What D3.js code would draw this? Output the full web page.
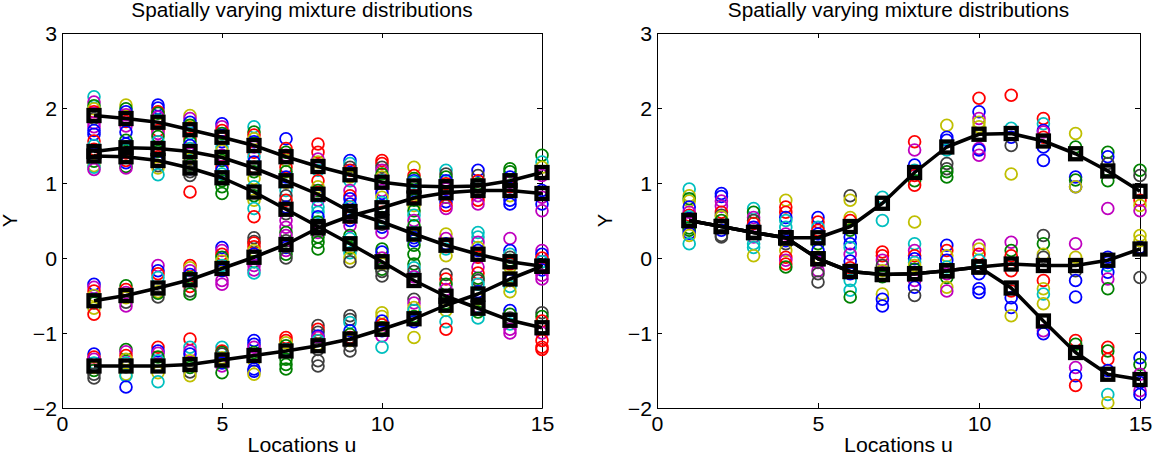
<!DOCTYPE html>
<html><head><meta charset="utf-8">
<script src="https://cdn.jsdelivr.net/npm/d3@7"></script>
<style>body{margin:0;background:#fff} text{font-family:"Liberation Sans",Arial,Helvetica,sans-serif;fill:#000}</style>
</head><body><svg id="c" width="1154" height="461"></svg>
<script>
// ---------------- data ----------------
const locations = [1,2,3,4,5,6,7,8,9,10,11,12,13,14,15];
const xTicks = [0,5,10,15];
const yTicks = [-2,-1,0,1,2,3];
const titleText = "Spatially varying mixture distributions";
const xLabelText = "Locations u";
const yLabelText = "Y";

// component means (black lines with squares), left panel
const leftA = [1.90,1.86,1.81,1.71,1.61,1.50,1.35,1.22,1.11,1.01,0.96,0.95,0.96,1.03,1.14];
const leftB = [1.42,1.47,1.46,1.42,1.34,1.20,1.03,0.85,0.62,0.48,0.32,0.17,0.05,-0.05,-0.11];
const leftC = [1.36,1.35,1.30,1.20,1.07,0.88,0.65,0.42,0.19,-0.05,-0.30,-0.51,-0.67,-0.83,-0.93];
const leftE = [-0.57,-0.50,-0.40,-0.29,-0.14,0.01,0.18,0.40,0.56,0.67,0.80,0.87,0.90,0.90,0.86];
const leftD = [-1.44,-1.44,-1.44,-1.42,-1.36,-1.30,-1.24,-1.17,-1.08,-0.95,-0.81,-0.63,-0.48,-0.28,-0.11];

// component means, right panel
const rightP = [0.50,0.42,0.34,0.27,0.27,0.42,0.73,1.14,1.48,1.65,1.66,1.56,1.39,1.16,0.89];
const rightQ = [0.50,0.42,0.34,0.27,-0.01,-0.18,-0.22,-0.21,-0.17,-0.12,-0.08,-0.10,-0.10,-0.03,0.12];
const rightR = [0.50,0.42,0.34,0.27,-0.01,-0.18,-0.22,-0.21,-0.17,-0.12,-0.40,-0.84,-1.26,-1.55,-1.62];

// samples per location: colour letter + value
const leftSamples = [
 "c2.15 m2.08 g2.03 y1.99 r1.95 g1.90 k1.86 m1.80 m1.75 b1.70 b1.65 r1.56 c1.50 r1.45 g1.42 b1.39 k1.34 g1.29 y1.23 c1.21 m1.18 b-0.35 m-0.39 r-0.44 y-0.50 c-0.55 g-0.60 y-0.67 r-0.75 b-1.28 r-1.32 m-1.35 c-1.40 y-1.46 g-1.50 k-1.55 k-1.60",
 "y2.04 g1.99 b1.95 m1.91 c1.86 r1.82 m1.76 b1.68 g1.57 b1.52 b1.48 c1.44 r1.40 g1.36 r1.30 b1.27 g1.22 m1.20 g-0.37 r-0.42 m-0.46 b-0.50 y-0.53 k-0.59 m-0.64 g-1.22 m-1.25 r-1.30 y-1.35 c-1.40 k-1.45 y-1.55 c-1.57 b-1.72",
 "b2.04 b2.00 r1.95 g1.93 m1.88 c1.84 y1.79 r1.70 m1.66 g1.62 c1.55 m1.48 g1.42 r1.35 b1.28 k1.23 y1.20 c1.11 m-0.10 b-0.17 r-0.21 c-0.26 y-0.45 g-0.47 k-0.52 r-1.19 b-1.24 m-1.27 g-1.32 c-1.37 y-1.53 c-1.65",
 "y1.90 m1.86 b1.81 g1.77 r1.73 c1.66 r1.59 g1.55 b1.50 c1.46 m1.39 y1.32 k1.28 g1.24 b1.19 k1.15 k1.10 r0.88 r-0.10 y-0.13 m-0.17 b-0.22 g-0.26 c-0.31 r-0.38 k-0.44 g-0.48 r-1.08 c-1.19 m-1.24 b-1.28 y-1.37 g-1.46 k-1.52 y-1.57",
 "b1.79 m1.75 r1.70 g1.66 y1.61 b1.55 c1.48 y1.43 m1.37 g1.30 r1.21 b1.17 c1.12 g1.03 g0.95 g0.86 b0.14 m0.10 r0.05 g0.01 y-0.04 c-0.10 b-0.17 m-0.30 m-0.35 c-1.19 r-1.24 g-1.26 k-1.28 y-1.33 b-1.40 m-1.44 g-1.53",
 "c1.75 g1.68 r1.64 y1.59 b1.55 m1.48 r1.41 c1.35 b1.28 r1.21 g1.15 y1.06 c0.95 g0.83 y0.77 c0.66 r0.55 k0.27 k0.22 r0.20 r0.15 y0.10 b0.05 g-0.05 m-0.10 m-0.16 c-0.20 b-1.10 b-1.15 m-1.19 g-1.26 r-1.30 y-1.37 b-1.48 b-1.51 y-1.55",
 "b1.59 r1.46 g1.41 m1.37 y1.30 r1.21 g1.15 b1.08 y1.01 c0.90 k0.83 r0.77 b0.68 k0.59 m0.50 m0.41 g0.34 m0.30 k0.23 r0.17 b0.14 m0.10 g0.05 k0.00 r-1.06 r-1.10 y-1.13 g-1.17 c-1.22 g-1.35 g-1.42 g-1.48",
 "r1.52 r1.41 m1.32 y1.28 g1.21 c1.17 r1.03 y0.95 g0.90 b0.83 m0.77 c0.68 c0.61 b0.55 g0.48 y0.41 m0.34 g0.28 g0.21 g0.12 k-0.90 r-0.95 k-0.99 b-1.04 m-1.06 c-1.10 y-1.15 k-1.22 k-1.37 k-1.44",
 "b1.30 c1.26 k1.21 r1.17 y1.08 c1.03 m0.90 r0.83 b0.79 b0.72 c0.68 k0.61 r0.54 b0.50 m0.43 g0.30 c0.26 m0.19 g0.13 c0.07 y0.00 k-0.05 k-0.77 k-0.82 c-0.86 b-0.97 g-1.02 r-1.06 y-1.10 k-1.17 k-1.24",
 "r1.30 r1.26 k1.21 m1.17 g1.12 y1.08 c1.03 m0.90 b0.86 y0.81 c0.74 b0.68 r0.61 g0.54 c0.50 k0.45 b0.41 m0.34 g0.12 b0.08 m0.00 y-0.08 g-0.15 k-0.18 k-0.24 y-0.73 y-0.78 b-0.84 r-0.89 g-0.93 b-0.97 m-1.04 c-1.19",
 "y1.21 r1.10 g1.06 b1.03 c1.01 m0.97 b0.90 r0.83 g0.77 y0.70 g0.63 c0.57 m0.50 g0.43 c0.34 y0.30 b0.27 b0.23 g0.17 g0.05 g-0.08 c-0.13 k-0.18 m-0.25 k-0.55 m-0.60 y-0.66 c-0.70 g-0.78 b-0.85 y-1.06",
 "c1.17 k1.12 g1.08 b1.03 r0.99 m0.92 y0.86 g0.81 b0.75 r0.70 m0.66 y0.32 m0.26 b0.19 r0.15 c0.12 y0.03 k-0.22 r-0.28 g-0.35 m-0.42 b-0.50 g-0.60 y-0.70 c-0.85 r-0.95",
 "b1.17 k1.10 r1.03 g0.99 c0.95 y0.90 m0.83 r0.77 m0.72 c0.34 c0.28 m0.21 y0.14 b0.10 r0.01 m-0.12 r-0.20 g-0.27 k-0.30 c-0.35 b-0.45 y-0.55 m-0.65 g-0.72 c-0.80",
 "g1.19 g1.15 b1.08 m1.01 r0.95 c0.88 y0.83 b0.77 b0.72 m0.26 b0.10 c0.05 k0.01 g-0.03 r-0.08 y-0.12 y-0.25 b-0.30 c-0.38 y-0.45 b-0.70 g-0.75 k-0.80 c-0.88 m-0.95 m-1.00",
 "g1.37 c1.28 y1.21 r1.15 m1.10 b0.90 m0.81 b0.72 m0.63 m0.10 b0.05 r0.00 c-0.05 g-0.10 b-0.16 m-0.23 m-0.28 k-0.73 g-0.78 r-0.84 b-0.93 m-1.00 r-1.10 r-1.19 r-1.22"
];
const rightSamples = [
 "c0.92 y0.83 g0.79 y0.76 b0.68 m0.61 r0.57 c0.55 m0.47 g0.40 g0.37 b0.33 y0.30 c0.19",
 "b0.86 b0.82 m0.76 m0.69 r0.61 k0.57 y0.55 g0.50 c0.43 b0.37 k0.30 k0.28",
 "c0.66 g0.61 m0.54 k0.50 r0.46 b0.41 g0.34 m0.28 c0.19 c0.14 y0.03",
 "y0.77 r0.68 r0.61 b0.54 c0.50 c0.41 m0.32 b0.23 k0.19 y0.10 r0.01 m-0.03 r-0.08 g-0.12",
 "b0.54 r0.48 c0.41 r0.37 b0.32 c0.28 g0.19 b0.10 y0.01 m-0.06 m-0.17 k-0.21 k-0.32",
 "k0.83 y0.77 y0.54 r0.50 m0.41 g0.37 b0.28 b0.19 c0.14 m0.05 b-0.04 r-0.13 b-0.21 c-0.30 c-0.43 g-0.52",
 "c0.81 y0.72 c0.50 r0.08 r0.03 m-0.03 k-0.10 y-0.17 g-0.25 y-0.48 b-0.55 b-0.64",
 "r1.55 m1.44 b1.24 c1.17 r1.10 g1.03 r0.97 y0.48 c0.19 m0.10 r0.03 b-0.01 c-0.06 y-0.10 g-0.15 b-0.21 m-0.30 b-0.39 k-0.50",
 "y1.77 b1.61 b1.57 c1.44 k1.26 k1.19 g1.15 g1.08 b0.17 r0.10 y0.03 b-0.03 c-0.12 m-0.21 g-0.26 y-0.39 m-0.44",
 "r2.13 b1.95 m1.86 y1.81 y1.75 m1.46 b1.44 m1.37 m0.17 y0.12 r0.05 c-0.03 g-0.12 b-0.21 b-0.41 b-0.46",
 "r2.17 c1.73 b1.61 k1.50 y1.12 m0.21 g0.10 r0.03 c-0.08 r-0.17 r-0.44 b-0.53 b-0.66 y-0.77",
 "r1.86 c1.79 b1.70 m1.68 r1.61 b1.48 b1.30 k0.30 g0.19 y0.05 k0.01 r-0.30 y-0.41 c-0.48 y-0.61 m-0.97 b-1.01",
 "y1.66 g1.48 g1.39 b1.08 g1.04 b0.95 y0.95 m0.19 y0.01 k-0.17 b-0.30 b-0.52 r-1.10 g-1.15 m-1.46 b-1.57 r-1.70",
 "g1.41 b1.35 k1.26 g1.17 g1.03 m0.66 b0.01 b-0.06 c-0.10 b-0.19 m-0.28 g-0.41 r-1.19 g-1.24 r-1.35 b-1.50 c-1.82 y-1.93",
 "g1.17 k1.10 c0.89 r0.77 y0.70 m0.63 y0.30 y0.23 b0.14 k-0.26 b-1.33 g-1.42 m-1.55 b-1.66 m-1.77 b-1.82"
];

const colorMap = {b:"#0000ff", g:"#008000", r:"#ff0000", c:"#00bfbf", m:"#bf00bf", y:"#bfbf00", k:"#404040"};

// ---------------- drawing ----------------
const svg = d3.select("#c");
svg.append("rect").attr("width",1154).attr("height",461).attr("fill","#fff");
const SX = 1.065; // horizontal stretch of the text in the reference
const FS = 20;
const fmt = d3.format("d");

function parseSamples(list){
  const out = [];
  list.forEach((s,i)=>{
    s.trim().split(/\s+/).forEach(tok=>{
      out.push({u: locations[i], y: +tok.slice(1), col: colorMap[tok[0]]});
    });
  });
  return out;
}

function panel(x0, x1, samples, lines){
  const top = 33, bottom = 408;
  const x = d3.scaleLinear().domain([0,15]).range([x0,x1]);
  const y = d3.scaleLinear().domain([-2,3]).range([bottom,top]);
  const g = svg.append("g");

  const styleAxis = (sel, labels) => {
    sel.attr("font-size", null).attr("font-family", null);
    sel.selectAll("path.domain").attr("stroke","#000").attr("stroke-width",1);
    sel.selectAll("line").attr("stroke","#000").attr("stroke-width",1);
    if(!labels) sel.selectAll("text").remove();
  };

  // axes box + inward ticks
  const gb = g.append("g").attr("transform",`translate(0,${bottom})`)
    .call(d3.axisBottom(x).tickValues(xTicks).tickFormat(fmt).tickSizeInner(-5).tickSizeOuter(0).tickPadding(9));
  styleAxis(gb, true);
  gb.selectAll("text").attr("font-size",FS).attr("dy","0.71em").attr("y",9)
    .attr("transform",`scale(${SX},1)`);
  const gt = g.append("g").attr("transform",`translate(0,${top})`)
    .call(d3.axisTop(x).tickValues(xTicks).tickSizeInner(-5).tickSizeOuter(0));
  styleAxis(gt, false);
  const gl = g.append("g").attr("transform",`translate(${x0},0)`)
    .call(d3.axisLeft(y).tickValues(yTicks).tickFormat(fmt).tickSizeInner(-5).tickSizeOuter(0).tickPadding(5));
  styleAxis(gl, true);
  gl.selectAll("text").attr("font-size",FS).attr("x",-5).attr("dy","0.36em")
    .attr("transform",`translate(-5,0) scale(${SX},1) translate(5,0)`);
  const gr = g.append("g").attr("transform",`translate(${x1},0)`)
    .call(d3.axisRight(y).tickValues(yTicks).tickSizeInner(-5).tickSizeOuter(0));
  styleAxis(gr, false);

  // sample circles
  g.append("g").selectAll("circle").data(parseSamples(samples)).join("circle")
    .attr("cx",d=>x(d.u)).attr("cy",d=>y(d.y)).attr("r",5.9)
    .attr("fill","none").attr("stroke",d=>d.col).attr("stroke-width",1.8);

  // mean lines + squares
  const line = d3.line().x((d,i)=>x(locations[i])).y(d=>y(d));
  lines.forEach(arr=>{
    g.append("path").attr("d",line(arr)).attr("fill","none")
      .attr("stroke","#000").attr("stroke-width",3.5).attr("stroke-linejoin","round");
  });
  lines.forEach(arr=>{
    g.append("g").selectAll("rect").data(arr).join("rect")
      .attr("x",(d,i)=>x(locations[i])-5.5).attr("y",d=>y(d)-5.5)
      .attr("width",11).attr("height",11)
      .attr("fill","none").attr("stroke","#000").attr("stroke-width",4.3);
  });

  // texts
  const cx = (x0+x1)/2;
  g.append("text").attr("transform",`translate(${cx},17) scale(${SX},1)`)
    .attr("text-anchor","middle").attr("font-size",19.5).text(titleText);
  g.append("text").attr("transform",`translate(${cx},452) scale(${SX},1)`)
    .attr("text-anchor","middle").attr("font-size",FS).text(xLabelText);
  g.append("text").attr("transform",`translate(${x0-45},${(top+bottom)/2}) rotate(-90)`)
    .attr("text-anchor","middle").attr("font-size",FS).text(yLabelText);
}

panel(62, 542, leftSamples, [leftA,leftB,leftC,leftE,leftD]);
panel(657, 1140, rightSamples, [rightP,rightQ,rightR]);
</script>
</body></html>
